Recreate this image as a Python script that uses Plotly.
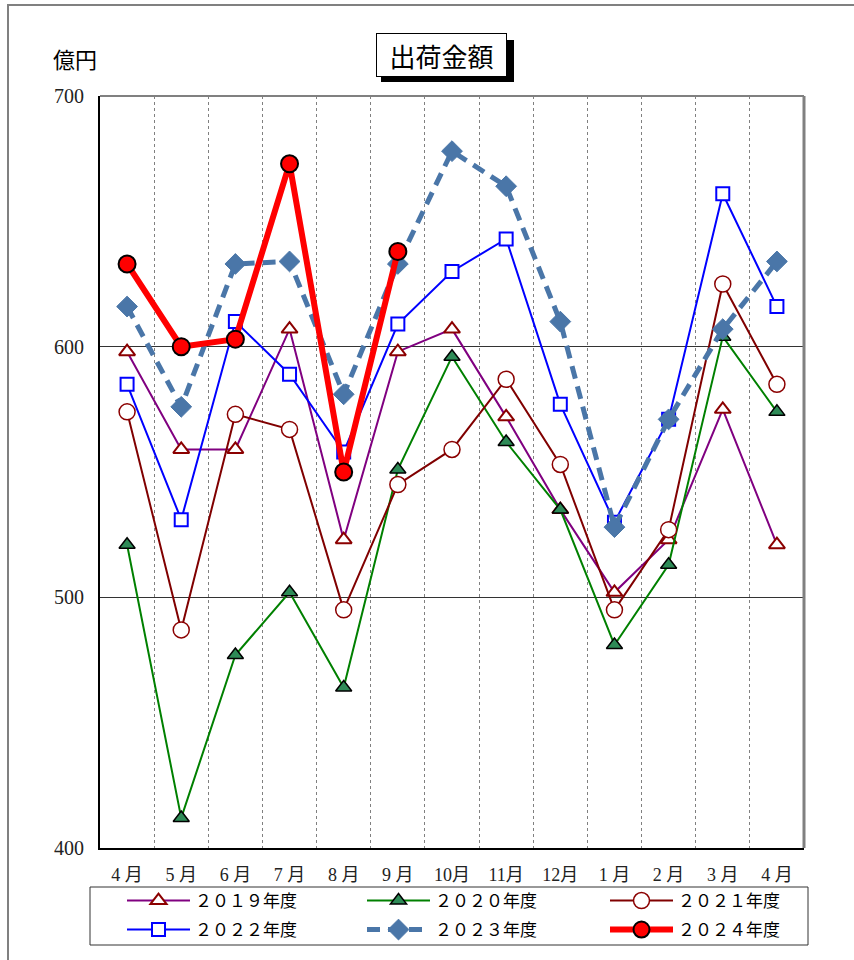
import plotly.graph_objects as go

months = ["4 月", "5 月", "6 月", "7 月", "8 月", "9 月", "10月", "11月", "12月", "1 月", "2 月", "3 月", "4 月"]

fy2019 = [598, 559, 559, 607, 523, 598, 607, 572, 535, 502, 523, 575, 521]
fy2020 = [521, 412, 477, 502, 464, 551, 596, 562, 535, 481, 513, 604, 574]
fy2021 = [574, 487, 573, 567, 495, 545, 559, 587, 553, 495, 527, 625, 585]
fy2022 = [585, 531, 610, 589, 558, 609, 630, 643, 577, 530, 571, 661, 616]
fy2023 = [616, 576, 633, 634, 581, 633, 678, 664, 610, 528, 571, 607, 634]
fy2024 = [633, 600, 603, 673, 550, 638]

legend_names = ["２０１９年度", "２０２０年度", "２０２１年度", "２０２２年度", "２０２３年度", "２０２４年度"]

x = list(range(len(months)))

W, H = 854, 960
L, R, T, B = 100, 50, 96, 112
pw, ph = W - L - R, H - T - B

def px2x(p):
    return (p - L) / pw

def px2y(p):
    return (H - B - p) / ph

fig = go.Figure()

fig.add_trace(go.Scatter(
    x=x, y=fy2019, name=legend_names[0], mode="lines+markers", legend="legend",
    line=dict(color="#800080", width=2),
    marker=dict(symbol="triangle-up", size=14, color="white", line=dict(color="#8B0000", width=2)),
))
fig.add_trace(go.Scatter(
    x=x, y=fy2020, name=legend_names[1], mode="lines+markers", legend="legend2",
    line=dict(color="#008000", width=2),
    marker=dict(symbol="triangle-up", size=14, color="#2E8B57", line=dict(color="black", width=1.5)),
))
fig.add_trace(go.Scatter(
    x=x, y=fy2021, name=legend_names[2], mode="lines+markers", legend="legend3",
    line=dict(color="#800000", width=2),
    marker=dict(symbol="circle", size=16, color="white", line=dict(color="#8B0000", width=1.5)),
))
fig.add_trace(go.Scatter(
    x=x, y=fy2022, name=legend_names[3], mode="lines+markers", legend="legend4",
    line=dict(color="#0000FF", width=2),
    marker=dict(symbol="square", size=13, color="white", line=dict(color="#0000FF", width=2)),
))
fig.add_trace(go.Scatter(
    x=x, y=fy2023, name=legend_names[4], mode="lines+markers", legend="legend5",
    line=dict(color="#4A76A8", width=5, dash="13px,8px"),
    marker=dict(symbol="diamond", size=16, color="#4A76A8", line=dict(color="#4A76A8", width=1)),
))
fig.add_trace(go.Scatter(
    x=x[:len(fy2024)], y=fy2024, name=legend_names[5], mode="lines+markers", legend="legend6",
    line=dict(color="#FF0000", width=6),
    marker=dict(symbol="circle", size=17, color="#FF0000", line=dict(color="black", width=2)),
))

legend_common = dict(
    orientation="h", xanchor="left", yanchor="middle",
    borderwidth=0, bgcolor="rgba(0,0,0,0)",
    font=dict(family="Noto Sans CJK JP", size=17, color="black"),
    itemwidth=63, traceorder="normal",
)

col_px = [122, 362, 605]
row_px = [901, 930]
legend_layout = {}
for i in range(6):
    key = "legend" if i == 0 else f"legend{i + 1}"
    legend_layout[key] = dict(x=px2x(col_px[i % 3]), y=px2y(row_px[i // 3]), **legend_common)

fig.update_layout(
    width=W, height=H,
    margin=dict(l=L, r=R, t=T, b=B, autoexpand=False),
    paper_bgcolor="white", plot_bgcolor="white",
    font=dict(family="Liberation Serif, Noto Sans CJK JP", color="black"),
    showlegend=True,
    **legend_layout,
    xaxis=dict(
        range=[-0.5, len(months) - 0.5],
        tickmode="array", tickvals=x, ticktext=months,
        showgrid=False, zeroline=False,
        showline=True, linecolor="black", linewidth=2,
        ticks="", ticklabelstandoff=9,
        tickfont=dict(family="Liberation Serif, Noto Sans CJK JP", size=18, color="#222"),
        minor=dict(tickvals=[i + 0.5 for i in range(len(months) - 1)], showgrid=True,
                   gridcolor="#808080", griddash="dot", gridwidth=1),
        fixedrange=True,
    ),
    yaxis=dict(
        range=[400, 700], dtick=100, tick0=400,
        showgrid=True, gridcolor="#333333", gridwidth=1,
        zeroline=False,
        showline=True, linecolor="black", linewidth=2,
        ticks="", ticklabelstandoff=10,
        tickfont=dict(family="Liberation Serif", size=20, color="#222"),
        fixedrange=True,
    ),
    shapes=[
        dict(type="line", xref="paper", yref="paper", x0=0, x1=1, y0=1, y1=1,
             line=dict(color="#808080", width=2)),
        dict(type="line", xref="paper", yref="paper", x0=1, x1=1, y0=0, y1=1,
             line=dict(color="#808080", width=3)),
        dict(type="rect", xref="paper", yref="paper", x0=px2x(8), x1=px2x(870), y0=px2y(975), y1=px2y(5),
             line=dict(color="#808080", width=2)),
        dict(type="rect", xref="paper", yref="paper", x0=px2x(90), x1=px2x(808), y0=px2y(945), y1=px2y(887),
             line=dict(color="#333333", width=1), fillcolor="white", layer="below"),
        # title box shadow
        dict(type="rect", xref="paper", yref="paper", x0=px2x(381), x1=px2x(514), y0=px2y(82), y1=px2y(40),
             line=dict(color="black", width=0), fillcolor="black"),
    ],
    annotations=[
        dict(text="出荷金額", xref="paper", yref="paper", x=px2x(441), y=px2y(55),
             xanchor="center", yanchor="middle",
             showarrow=False,
             font=dict(family="Noto Sans CJK JP", size=26, color="black"),
             bgcolor="white", bordercolor="black", borderwidth=1, borderpad=2,
             width=125, height=38),
        dict(text="億円", xref="paper", yref="paper", x=px2x(75), y=px2y(58),
             xanchor="center", yanchor="middle",
             showarrow=False,
             font=dict(family="Noto Sans CJK JP", size=22, color="black")),
    ],
)

fig.write_html("out.html", config={"displayModeBar": False},
               post_script="document.body.style.margin='0px';")
